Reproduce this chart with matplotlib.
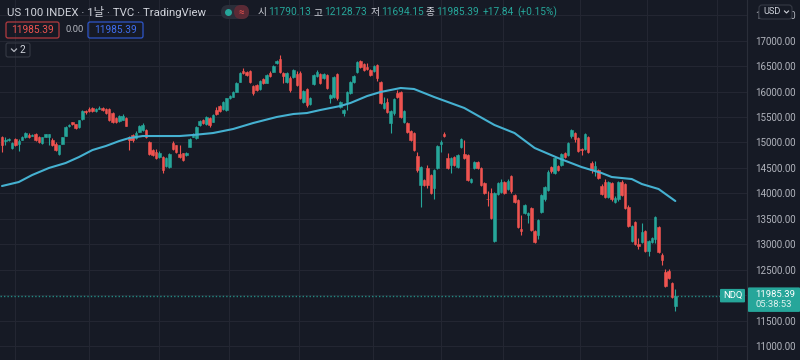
import matplotlib
matplotlib.use("Agg")
import matplotlib.pyplot as plt
from matplotlib.patches import FancyBboxPatch
from matplotlib.lines import Line2D
from matplotlib.transforms import IdentityTransform

# daily candles, US 100 index
opens = [15100, 15020, 15040, 14890, 15060, 14980, 15050, 15100, 15150, 15130,
         15170, 15110, 14990, 15110, 15110, 15050, 14980, 14770, 14980, 15130,
         15320, 15400, 15360, 15300, 15460, 15620, 15660, 15670, 15610, 15660,
         15680, 15660, 15660, 15570, 15490, 15420, 15450, 15480, 15110, 15150,
         15080, 15210, 15240, 15250, 15010, 14850, 14820, 14720, 14720, 14530,
         14510, 14990, 14950, 14770, 14790, 14750, 14920, 15110, 15080, 15340,
         15450, 15360, 15480, 15410, 15640, 15720, 15650, 15640, 15870, 15900,
         16000, 16190, 16410, 16390, 16410, 16110, 16130, 16060, 16240, 16170,
         16360, 16390, 16560, 16650, 16360, 16190, 16260, 16290, 16340, 16360,
         15790, 16060, 15750, 16140, 16310, 16340, 16270, 16330, 15880, 15900,
         16340, 15700, 15570, 15790, 15970, 16190, 16380, 16600, 16540, 16490,
         16420, 16400, 16520, 16180, 15670, 15800, 15380, 15570, 15970, 15990,
         15410, 15380, 15230, 15180, 14730, 14170, 14260, 14490, 14360, 14100,
         14490, 14970, 15170, 14690, 14550, 14720, 14520, 14920, 14770, 14750,
         14230, 14490, 14620, 14490, 14210, 13890, 14010, 13070, 13990, 14030,
         14230, 14080, 14340, 13960, 13870, 13300, 13610, 13580, 13710, 13270,
         13180, 13640, 13880, 14070, 14520, 14410, 14530, 14560, 14790, 14750,
         15130, 15190, 15080, 14880, 14880, 15110, 14600, 14460, 14460, 14150,
         14230, 13920, 14210, 13840, 13880, 14230, 14180, 13730, 13070, 13440,
         13010, 13050, 13270, 12860, 13050, 13100, 13330, 12790, 12460, 12480,
         12230, 11790.13]
highs = [15130, 15100, 15090, 15010, 15080, 15060, 15130, 15200, 15190, 15160,
         15190, 15130, 15110, 15170, 15170, 15090, 15000, 14960, 15110, 15320,
         15370, 15410, 15370, 15450, 15630, 15630, 15700, 15690, 15680, 15710,
         15700, 15680, 15680, 15590, 15510, 15540, 15560, 15500, 15130, 15170,
         15220, 15350, 15380, 15270, 15020, 14880, 14880, 14830, 14740, 14710,
         14800, 15030, 14960, 14950, 14800, 14810, 15080, 15180, 15320, 15450,
         15470, 15530, 15500, 15560, 15700, 15740, 15820, 15880, 15930, 16020,
         16180, 16390, 16470, 16410, 16430, 16130, 16150, 16230, 16260, 16350,
         16400, 16520, 16620, 16720, 16380, 16380, 16300, 16450, 16410, 16400,
         16030, 16080, 15890, 16350, 16430, 16360, 16360, 16350, 15950, 16310,
         16360, 15820, 15660, 16010, 16200, 16330, 16610, 16630, 16560, 16560,
         16440, 16530, 16540, 16200, 15900, 15880, 15640, 15870, 16030, 16010,
         15640, 15400, 15250, 15200, 14820, 14540, 14280, 14560, 14380, 14480,
         14950, 15050, 15200, 14800, 14710, 14740, 14770, 15090, 15050, 14770,
         14300, 14640, 14640, 14510, 14230, 14050, 14100, 14020, 14230, 14290,
         14250, 14290, 14360, 13980, 13890, 13580, 13800, 13640, 13730, 13290,
         13490, 13990, 14150, 14450, 14540, 14710, 14550, 14790, 14810, 15010,
         15270, 15210, 15100, 14900, 15190, 15130, 14630, 14630, 14480, 14180,
         14280, 14250, 14230, 13940, 14250, 14260, 14200, 13770, 13370, 13460,
         13120, 13420, 13290, 13090, 13150, 13560, 13350, 12830, 12510, 12520,
         12260, 12128.73]
lows = [14810, 14950, 15020, 14870, 14940, 14840, 15040, 15090, 15080, 15120,
        15030, 14990, 14970, 15100, 14950, 14940, 14830, 14760, 14970, 15120,
        15300, 15340, 15260, 15290, 15440, 15560, 15590, 15600, 15600, 15650,
        15620, 15560, 15430, 15380, 15380, 15400, 15440, 15320, 14850, 15000,
        15060, 15200, 15220, 15080, 14750, 14730, 14670, 14700, 14400, 14510,
        14500, 14860, 14800, 14700, 14640, 14740, 14910, 15100, 15060, 15320,
        15360, 15350, 15310, 15400, 15540, 15590, 15640, 15620, 15860, 15890,
        15990, 16180, 16340, 16310, 16170, 15930, 16010, 16040, 16150, 16160,
        16290, 16380, 16550, 16370, 16170, 16170, 16000, 16270, 16110, 15860,
        15770, 15700, 15730, 16120, 16290, 16140, 16250, 16060, 15770, 15880,
        15840, 15680, 15530, 15640, 15950, 16170, 16360, 16470, 16400, 16420,
        16310, 16380, 16200, 15750, 15650, 15570, 15180, 15550, 15880, 15490,
        15390, 15190, 15030, 14830, 14420, 13740, 14140, 14100, 13980, 13890,
        14470, 14810, 15100, 14470, 14410, 14540, 14500, 14900, 14670, 14240,
        14210, 14470, 14470, 14140, 13990, 13760, 13490, 13050, 13970, 14010,
        13980, 14060, 14010, 13820, 13310, 13180, 13590, 13420, 13270, 13030,
        13100, 13620, 13860, 14050, 14400, 14390, 14440, 14530, 14690, 14730,
        15090, 15010, 14820, 14750, 14860, 14800, 14400, 14340, 14290, 13970,
        13910, 13900, 13860, 13810, 13860, 13950, 13690, 13330, 13050, 12990,
        12900, 13030, 12840, 12760, 13030, 13020, 12830, 12600, 12160, 12310,
        11950, 11694.15]
closes = [14950, 15050, 15070, 14990, 14960, 15030, 15100, 15180, 15110, 15140,
          15050, 15010, 15100, 15160, 15160, 14950, 14850, 14950, 15100, 15310,
          15350, 15360, 15280, 15440, 15620, 15590, 15610, 15610, 15660, 15680,
          15630, 15570, 15440, 15410, 15410, 15520, 15520, 15330, 15050, 15050,
          15180, 15330, 15340, 15100, 14770, 14750, 14690, 14800, 14460, 14690,
          14780, 14880, 14820, 14710, 14660, 14790, 15060, 15150, 15310, 15430,
          15380, 15510, 15340, 15540, 15560, 15610, 15800, 15870, 15910, 16000,
          16160, 16370, 16360, 16330, 16190, 15980, 16030, 16210, 16170, 16330,
          16310, 16500, 16600, 16390, 16310, 16360, 16030, 16420, 16130, 15880,
          16010, 15740, 15870, 16330, 16390, 16160, 16340, 16080, 15930, 16290,
          15870, 15800, 15640, 15990, 16180, 16310, 16590, 16490, 16420, 16440,
          16330, 16510, 16270, 15770, 15770, 15590, 15620, 15850, 15900, 15510,
          15620, 15210, 15050, 14850, 14450, 14520, 14160, 14160, 14000, 14460,
          14930, 15010, 15130, 14490, 14690, 14560, 14750, 15060, 14690, 14260,
          14280, 14620, 14490, 14160, 14010, 13880, 13510, 14000, 14200, 14230,
          14000, 14250, 14040, 13840, 13330, 13270, 13770, 13610, 13290, 13050,
          13470, 13970, 14130, 14430, 14440, 14690, 14460, 14770, 14710, 14990,
          15240, 15060, 14840, 14850, 15170, 14820, 14460, 14530, 14310, 13990,
          13930, 14230, 13880, 13900, 14230, 13970, 13710, 13350, 13350, 13010,
          12960, 13250, 12860, 13070, 13120, 13540, 12850, 12700, 12180, 12330,
          11967.55, 11985.39]

# moving average line (candle index, value)
ma_idx = [0, 5, 9, 14, 19, 23, 27, 31, 35, 38, 42, 47, 53, 57, 63, 69, 75, 82,
          87, 91, 95, 101, 104, 109, 113, 119, 123, 129, 138, 147, 153, 159,
          166, 173, 179, 182, 188, 191, 196, 201]
ma_vals = [14145, 14223, 14361, 14499, 14597, 14715, 14852, 14931, 15029, 15088,
           15127, 15127, 15127, 15147, 15186, 15265, 15383, 15501, 15560, 15579,
           15638, 15717, 15776, 15913, 15992, 16071, 16051, 15894, 15678, 15344,
           15186, 14892, 14695, 14518, 14400, 14322, 14282, 14184, 14086, 13850]

price_ticks = [11000, 11500, 12000, 12500, 13000, 13500, 14000, 14500, 15000,
               15500, 16000, 16500, 17000, 17500]
month_starts = [3.9, 26, 46.9, 67.8, 88.7, 110.7, 131, 149.6, 172.5, 192.5, 213.4]

title = "US 100 INDEX · 1날 · TVC · TradingView"
ohlc_names = ["시", "고", "저", "종"]
symbol = "NDQ"
countdown = "05:38:53"

BG = "#161a25"
GRID = "#232632"
UP = "#26a69a"
DOWN = "#ef5350"
MA = "#45b1d1"
TXT = "#d1d4dc"
AXT = "#b2b5be"

plt.rcParams["font.family"] = ["Roboto", "Noto Sans CJK KR", "DejaVu Sans"]

W, H = 800, 360
fig = plt.figure(figsize=(8, 3.6), dpi=100, facecolor=BG)
ax = fig.add_axes([0, 0, 747 / W, 1], facecolor=BG)
PX = IdentityTransform()

n = len(closes)
idx = list(range(n))
cols = [UP if c >= o else DOWN for o, c in zip(opens, closes)]
bottoms = [min(o, c) for o, c in zip(opens, closes)]
heights = [abs(c - o) for o, c in zip(opens, closes)]

ax.vlines(idx, lows, highs, colors=cols, lw=0.8, zorder=3)
ax.bar(idx, heights, bottom=bottoms, width=0.75, color=cols, edgecolor=cols,
       linewidth=0.4, zorder=4)
ax.plot(ma_idx, ma_vals, color=MA, lw=1.5, zorder=5, solid_capstyle="round")

ax.axhline(closes[-1], xmin=0, xmax=720 / 747, color=UP, lw=1, ls=(0, (1, 1.5)),
           alpha=0.8, zorder=2)

ax.set_xlim(-0.6, 222.4)
ax.set_ylim(10726, 17800)
ax.yaxis.tick_right()
ax.set_yticks(price_ticks)
# the label under the last-price tag is covered in the original
ax.set_yticklabels(["" if abs(p - closes[-1]) < 250 else f"{p:.2f}"
                    for p in price_ticks])
ax.set_xticks(month_starts)
ax.set_xticklabels([])
ax.tick_params(axis="y", length=0, pad=6, labelsize=7, labelcolor=AXT)
ax.tick_params(axis="x", length=0)
ax.grid(True, color=GRID, lw=0.8, zorder=0)
for s in ["top", "left", "bottom"]:
    ax.spines[s].set_visible(False)
ax.spines["right"].set_color("#2a2e39")


def box(x0, y0, x1, y1, fc, ec, r=2.0, lw=0.8):
    p = FancyBboxPatch((x0, H - y1), x1 - x0, y1 - y0,
                       boxstyle=f"round,pad=0,rounding_size={r}",
                       fc=fc, ec=ec, lw=lw, transform=PX)
    fig.add_artist(p)


def txt(x, y, s, color=TXT, size=7.5, ha="left", **kw):
    fig.text(x, H - y, s, color=color, fontsize=size, ha=ha, va="center",
             transform=PX, **kw)


# header
txt(7, 12, title, size=8.2)
box(221, 5, 249, 19, "#2a2e39", "none", r=7)
box(234, 5, 249, 19, "#5b2a35", "none", r=7)
fig.add_artist(Line2D([228], [H - 12], marker="o", ms=4, color=UP, transform=PX))
txt(241.5, 12, "≈", color=DOWN, size=7, ha="center")

change = closes[-1] - closes[-2]
pct = change / closes[-2] * 100
ohlc = [opens[-1], highs[-1], lows[-1], closes[-1]]
for name, v, lx in zip(ohlc_names, ohlc, [258, 314, 371, 426]):
    txt(lx, 12, name, size=7)
    txt(lx + 10, 12, f"{v:.2f}", color=UP, size=7.3)
txt(483, 12, f"{change:+.2f}", color=UP, size=7.3)
txt(517, 12, f"({pct:+.2f}%)", color=UP, size=7.3)

# second row
box(6, 22, 59, 38, "none", "#b23a40", r=2, lw=0.9)
txt(32.5, 30, f"{closes[-1]:.2f}", color=DOWN, size=7.3, ha="center")
txt(66, 30, "0.00", color=AXT, size=6.8)
box(88, 22, 143, 38, "none", "#2e56c9", r=2, lw=0.9)
txt(115.5, 30, f"{closes[-1]:.2f}", color="#3f6ef0", size=7.3, ha="center")

# collapsed indicators
box(6, 43, 30, 57, "none", "#363a45", r=2, lw=0.8)
fig.add_artist(Line2D([11.5, 14, 16.5], [H - 49, H - 51.5, H - 49], color=AXT,
                      lw=0.9, transform=PX))
txt(22.5, 50, "2", color=TXT, size=7.3, ha="center")

# currency button
box(759, 5, 792, 19, BG, "#363a45", r=3, lw=0.8)
txt(763, 12, "USD", color=TXT, size=6.6)
fig.add_artist(Line2D([784.5, 786.5, 788.5], [H - 11, H - 13, H - 11], color=TXT,
                      lw=0.8, transform=PX))

# last price labels
fig.canvas.draw()
py = H - ax.transData.transform((0, closes[-1]))[1]
box(720, py - 7, 745, py + 6.5, UP, "none", r=1)
txt(732.5, py - 0.3, symbol, color="white", size=6.8, ha="center")
box(748, py - 8.5, 800, py + 16, UP, "none", r=1)
txt(755, py - 1.5, f"{closes[-1]:.2f}", color="white", size=6.8)
txt(755, py + 9, countdown, color="#e0f2ef", size=6.8)

fig.savefig("out.png", dpi=100, facecolor=BG)
